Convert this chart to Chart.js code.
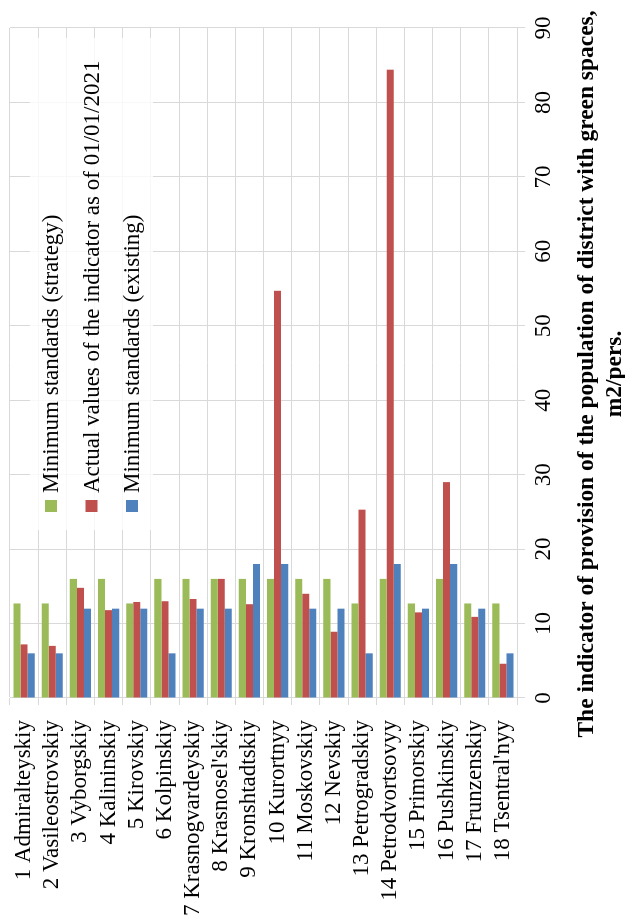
<!DOCTYPE html>
<html>
<head>
<meta charset="utf-8">
<script src="https://cdn.jsdelivr.net/npm/chart.js@4/dist/chart.umd.min.js"></script>
<style>
  html, body { margin: 0; padding: 0; background: #fff; overflow: hidden; }
  #wrap {
    position: absolute; left: 0; top: 0;
    width: 918px; height: 625px;
    transform-origin: 0 0;
    transform: translateY(918px) rotate(-90deg);
  }
</style>
</head>
<body>
<div id="wrap"><canvas id="chartGreen" width="918" height="625"></canvas></div>
<script>
var districts = [
  "1 Admiralteyskiy", "2 Vasileostrovskiy", "3 Vyborgskiy", "4 Kalininskiy",
  "5 Kirovskiy", "6 Kolpinskiy", "7 Krasnogvardeyskiy", "8 Krasnosel'skiy",
  "9 Kronshtadtskiy", "10 Kurortnyy", "11 Moskovskiy", "12 Nevskiy",
  "13 Petrogradskiy", "14 Petrodvortsovyy", "15 Primorskiy", "16 Pushkinskiy",
  "17 Frunzenskiy", "18 Tsentral'nyy"
];
var strategyValues = [12.7, 12.7, 16, 16, 12.7, 16, 16, 16, 16, 16, 16, 16, 12.7, 16, 12.7, 16, 12.7, 12.7];
var actualValues = [7.2, 7.0, 14.8, 11.8, 12.9, 13.0, 13.3, 16.0, 12.6, 54.7, 14.0, 8.9, 25.3, 84.4, 11.5, 29.0, 10.9, 4.6];
var existingValues = [6, 6, 12, 12, 12, 6, 12, 12, 18, 18, 12, 12, 6, 18, 12, 18, 12, 6];
var valueTicks = [0, 10, 20, 30, 40, 50, 60, 70, 80, 90];
var axisTitle = ["The indicator of provision of the population of district with green spaces,", "m2/pers."];

var serif = "'Liberation Serif', 'Times New Roman', serif";
Chart.defaults.font.family = serif;
Chart.defaults.font.size = 23;
Chart.defaults.color = "#000";

// legend drawn inside the plot area, like the original
var innerLegend = {
  id: "innerLegend",
  afterDraw: function (chart) {
    var ctx = chart.ctx;
    var area = chart.chartArea;
    var left = area.right - 502, top = area.top + 20;
    ctx.save();
    ctx.fillStyle = "rgba(255,255,255,0.8)";
    ctx.fillRect(left, top, 492, 123);
    ctx.font = "23px " + serif;
    ctx.textBaseline = "middle";
    chart.data.datasets.forEach(function (ds, i) {
      var y = top + 21 + i * 40.5;
      ctx.fillStyle = ds.backgroundColor;
      ctx.fillRect(left + 18, y - 6, 12, 12);
      ctx.fillStyle = "#000";
      ctx.fillText(ds.label, left + 37, y + 1);
    });
    ctx.restore();
  }
};

// value axis title, a little left of the plot centre as in the original
var axisTitlePlugin = {
  id: "axisTitlePlugin",
  afterDraw: function (chart) {
    var ctx = chart.ctx;
    var area = chart.chartArea;
    var cx = (area.left + area.right) / 2 - 11;
    ctx.save();
    // first line is about 727px long in the original
    ctx.font = "bold 24px " + serif;
    var size = 24 * 727 / ctx.measureText(axisTitle[0]).width;
    ctx.font = "bold " + size.toFixed(2) + "px " + serif;
    ctx.fillStyle = "#000";
    ctx.textAlign = "center";
    ctx.textBaseline = "middle";
    axisTitle.forEach(function (line, i) {
      ctx.fillText(line, cx, area.bottom + 70 + i * 28);
    });
    ctx.restore();
  }
};

var ctx = document.getElementById("chartGreen").getContext("2d");
var chartGreen = new Chart(ctx, {
  type: "bar",
  data: {
    labels: districts,
    datasets: [
      { label: "Minimum standards (strategy)", data: strategyValues, backgroundColor: "#9bbb59" },
      { label: "Actual values of the indicator as of 01/01/2021", data: actualValues, backgroundColor: "#c0504d" },
      { label: "Minimum standards (existing)", data: existingValues, backgroundColor: "#4f81bd" }
    ]
  },
  options: {
    indexAxis: "y",
    responsive: false,
    animation: false,
    categoryPercentage: 0.75,
    barPercentage: 1,
    layout: { padding: { top: 10, right: 28, bottom: 0, left: 0 } },
    plugins: {
      legend: { display: false },
      tooltip: { enabled: false }
    },
    scales: {
      x: {
        min: valueTicks[0],
        max: valueTicks[valueTicks.length - 1],
        afterBuildTicks: function (scale) {
          scale.ticks = valueTicks.map(function (v) { return { value: v }; });
        },
        afterFit: function (scale) {
          scale.height = 108;
          scale.paddingLeft = 0;
          scale.paddingRight = 0;
        },
        grid: { color: "#d9d9d9", tickLength: 8, tickColor: "#d9d9d9" },
        border: { display: false },
        ticks: { padding: 5, font: { size: 23 } }
      },
      y: {
        afterFit: function (scale) {
          scale.width = 220;
          scale.paddingTop = 0;
          scale.paddingBottom = 0;
        },
        grid: { color: "#d9d9d9", offset: true, tickLength: 7, tickColor: "#d9d9d9" },
        border: { color: "#d9d9d9" },
        ticks: { autoSkip: false, padding: 15, font: { size: 23 } }
      }
    }
  },
  plugins: [innerLegend, axisTitlePlugin]
});
</script>
</body>
</html>
